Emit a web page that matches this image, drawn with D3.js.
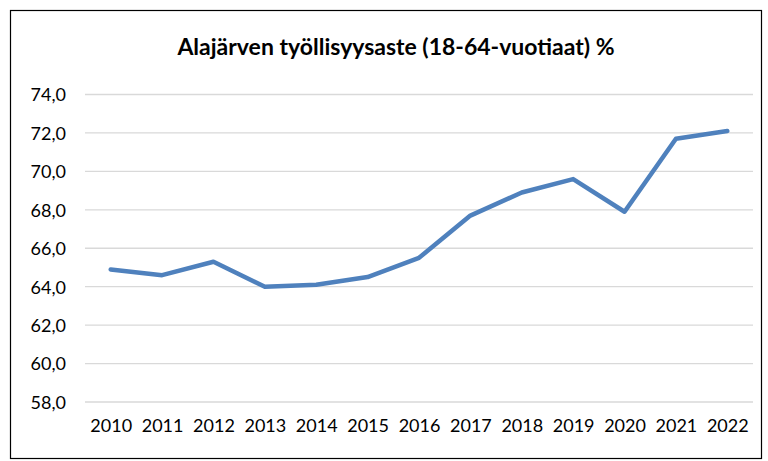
<!DOCTYPE html>
<html>
<head>
<meta charset="utf-8">
<script src="https://cdn.jsdelivr.net/npm/d3@7"></script>
<style>
  body { margin: 0; background: #fff; }
  text { font-family: Lato, "Open Sans", sans-serif; fill: #000; }
</style>
</head>
<body>
<script>
// data
var years = ["2010","2011","2012","2013","2014","2015","2016","2017","2018","2019","2020","2021","2022"];
var rate = [64.9, 64.6, 65.3, 64.0, 64.1, 64.5, 65.5, 67.7, 68.9, 69.6, 67.9, 71.7, 72.1];
var yTicks = [58, 60, 62, 64, 66, 68, 70, 72, 74];

var width = 768, height = 461;
var svg = d3.select("body").append("svg")
  .attr("width", width)
  .attr("height", height);

// outer frame
svg.append("rect")
  .attr("x", 10.5).attr("y", 10.5)
  .attr("width", 751).attr("height", 448)
  .attr("fill", "#fff")
  .attr("stroke", "#000")
  .attr("stroke-width", 1.2);

svg.append("text")
  .attr("x", 396).attr("y", 55)
  .attr("text-anchor", "middle")
  .style("font-size", "23px")
  .style("font-weight", "bold")
  .text("Alajärven työllisyysaste (18-64-vuotiaat) %");

var x = d3.scalePoint().domain(years).range([85, 753]).padding(0.5);
var y = d3.scaleLinear().domain([58, 74]).range([402, 94.5]);

// gridlines
svg.selectAll(".grid")
  .data(yTicks)
  .enter()
  .append("line")
  .attr("x1", 85).attr("x2", 753)
  .attr("y1", function (d) { return y(d); })
  .attr("y2", function (d) { return y(d); })
  .attr("stroke", "#d9d9d9")
  .attr("stroke-width", 1.3);

// y axis labels
var yAxis = d3.axisLeft(y)
  .tickValues(yTicks)
  .tickSize(0)
  .tickPadding(0)
  .tickFormat(function (d) { return d3.format(".1f")(d).replace(".", ","); });
var gy = svg.append("g").attr("transform", "translate(66,0)").call(yAxis);
gy.select(".domain").remove();
gy.selectAll("text").style("font-size", "18px").attr("dy", "0.35em");

// x axis labels
var xAxis = d3.axisBottom(x).tickSize(0).tickPadding(0);
var gx = svg.append("g").attr("transform", "translate(0,419)").call(xAxis);
gx.select(".domain").remove();
gx.selectAll("text").style("font-size", "18px");

// the line
var line = d3.line()
  .x(function (d, i) { return x(years[i]); })
  .y(function (d) { return y(d); });

svg.append("path")
  .datum(rate)
  .attr("d", line)
  .attr("fill", "none")
  .attr("stroke", "#4f81bd")
  .attr("stroke-width", 4.5)
  .attr("stroke-linejoin", "round")
  .attr("stroke-linecap", "round");
</script>
</body>
</html>
